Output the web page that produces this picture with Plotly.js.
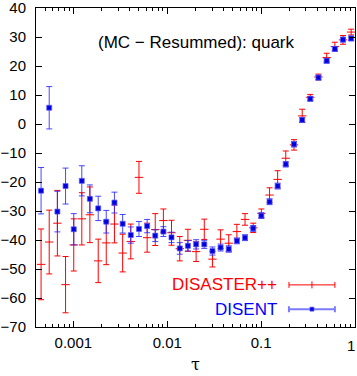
<!DOCTYPE html>
<html>
<head>
<meta charset="utf-8">
<script src="https://cdn.plot.ly/plotly-3.0.1.min.js"></script>
<style>
  html, body { margin: 0; padding: 0; background: #fff; }
  #plot { width: 357px; height: 376px; }
</style>
</head>
<body>
<div id="plot"></div>
<script>
// tau bin centres (log spaced)
var tau = [0.000453, 0.000553, 0.000676, 0.000826, 0.00101, 0.00123, 0.00150, 0.00184,
           0.00224, 0.00274, 0.00335, 0.00409, 0.00500, 0.00611, 0.00745, 0.00910,
           0.0111, 0.0136, 0.0166, 0.0203, 0.0248, 0.0303, 0.0370, 0.0452,
           0.0552, 0.0674, 0.0824, 0.1006, 0.123, 0.150, 0.183, 0.224,
           0.274, 0.334, 0.408, 0.499, 0.610, 0.745, 0.910];

// DISASTER++ (red)
var disasterVal = [-48.4, -40.7, -34.2, -55.4, -41.7, -32.7, -31.3, -47.2,
                   -41.0, -34.5, -44.5, -40.5, -18.4, -39.2, -36.4, -33.3,
                   -37.5, -43.0, -40.1, -44.0, -36.3, -46.6, -39.7, -41.1,
                   -37.1, -32.9, -35.8, -30.8, -24.5, -19.1, -11.8, -7.2,
                   2.8, 9.2, 16.2, 22.9, 26.7, 29.0, 31.7];
var disasterErr = [12.2, 11.0, 11.3, 9.7, 9.0, 9.0, 9.6, 7.5,
                   7.5, 6.5, 6.5, 6.0, 5.5, 5.0, 5.5, 4.0,
                   4.3, 4.2, 3.8, 3.4, 3.5, 2.7, 3.2, 2.9,
                   2.5, 2.0, 1.6, 1.5, 2.5, 3.0, 2.5, 1.8,
                   2.3, 1.0, 1.0, 1.5, 1.5, 1.5, 1.0];

// DISENT (blue)
var disentVal = [-23.0, 5.6, -30.2, -21.4, -36.3, -19.6, -25.8, -29.1,
                 -33.7, -27.1, -34.4, -38.3, -36.2, -35.2, -38.5, -37.1,
                 -39.1, -42.9, -42.0, -41.5, -41.5, -43.8, -42.6, -43.1,
                 -40.3, -39.2, -36.0, -31.6, -26.8, -21.4, -13.9, -7.0,
                 1.4, 8.7, 16.0, 21.8, 25.9, 29.1, 29.5];
var disentErr = [8.0, 7.3, 7.0, 6.2, 5.4, 5.2, 4.8, 4.2,
                 3.9, 3.6, 3.2, 2.8, 2.6, 2.3, 2.0, 1.7,
                 1.8, 2.0, 1.8, 1.6, 1.4, 1.4, 1.2, 1.1,
                 1.0, 1.0, 1.0, 1.0, 1.0, 1.0, 0.9, 0.9,
                 0.8, 0.8, 0.8, 0.8, 0.8, 0.8, 0.8];

var xTickVals = [0.001, 0.01, 0.1, 1];
var xTickText = ['0.001', '0.01', '0.1', ''];   // "1" sits on the right edge, drawn as an annotation
var yTickVals = [-70, -60, -50, -40, -30, -20, -10, 0, 10, 20, 30, 40];

var seriesNames = ['DISASTER++', 'DISENT'];
var RED = '#ff0000';
var BLUE = '#0000ff';
var FONT = 'Liberation Sans, Arial, sans-serif';

// minor ticks 2..9 in each decade
var minorVals = [];
[0.0001, 0.001, 0.01, 0.1].forEach(function(d){
    for (var k = 2; k <= 9; k++) minorVals.push(k * d);
});

var trace1 = {
    name: seriesNames[0],
    x: tau,
    y: disasterVal,
    type: 'scatter',
    mode: 'markers',
    marker: {symbol: 'line-ew-open', size: 6, color: RED, line: {color: RED, width: 1}},
    error_y: {type: 'data', array: disasterErr, visible: true, color: RED, thickness: 1, width: 3},
    showlegend: false
};

var trace2 = {
    name: seriesNames[1],
    x: tau,
    y: disentVal,
    type: 'scatter',
    mode: 'markers',
    marker: {symbol: 'square', size: 5, color: '#0000dd', line: {color: 'rgba(90,90,255,0.7)', width: 1}},
    error_y: {type: 'data', array: disentErr, visible: true, color: 'rgba(40,40,255,0.85)', thickness: 1, width: 3},
    showlegend: false
};

// legend samples drawn on a hidden 0..1 overlay axis
var keyRed = {
    x: [0.865], y: [0.132], xaxis: 'x2', yaxis: 'y2',
    type: 'scatter', mode: 'markers',
    marker: {symbol: 'line-ns-open', size: 5, color: RED, line: {color: RED, width: 1}},
    error_x: {type: 'constant', value: 0.072, color: RED, thickness: 1, width: 3},
    showlegend: false, hoverinfo: 'skip'
};
var keyBlue = {
    x: [0.865], y: [0.056], xaxis: 'x2', yaxis: 'y2',
    type: 'scatter', mode: 'markers',
    marker: {symbol: 'square', size: 4, color: '#0000dd', line: {color: 'rgba(90,90,255,0.7)', width: 1}},
    error_x: {type: 'constant', value: 0.072, color: 'rgba(90,90,255,0.8)', thickness: 2, width: 3},
    showlegend: false, hoverinfo: 'skip'
};

var layout = {
    width: 357,
    height: 376,
    margin: {l: 36, r: 2, t: 8, b: 49},
    paper_bgcolor: '#fff',
    plot_bgcolor: '#fff',
    font: {family: FONT, size: 15, color: '#000'},
    xaxis: {
        type: 'log',
        range: [Math.log10(0.0004), 0],
        tickvals: xTickVals,
        ticktext: xTickText,
        ticks: 'inside', ticklen: 6, tickcolor: '#000',
        minor: {tickvals: minorVals, ticks: 'inside', ticklen: 3, tickcolor: '#000'},
        showline: true, linecolor: '#000', linewidth: 1, mirror: 'ticks',
        showgrid: false, zeroline: false,
        ticklabelstandoff: 2,
        title: {text: 'τ', font: {family: 'DejaVu Serif, serif', size: 16}, standoff: 8}
    },
    yaxis: {
        range: [-70, 40],
        tickvals: yTickVals,
        ticks: 'inside', ticklen: 6, tickcolor: '#000',
        showline: true, linecolor: '#000', linewidth: 1, mirror: 'ticks',
        showgrid: false, zeroline: false,
        ticklabelstandoff: 6,
        ticklabeloverflow: 'allow'
    },
    xaxis2: {overlaying: 'x', range: [0, 1], visible: false, fixedrange: true},
    yaxis2: {overlaying: 'y', range: [0, 1], visible: false, fixedrange: true},
    annotations: [
        {text: '(MC \u2212 Resummed): quark', xref: 'paper', yref: 'paper', x: 0.502, y: 0.893,
         xanchor: 'center', yanchor: 'middle', showarrow: false, font: {size: 17}},
        {text: seriesNames[0], xref: 'paper', yref: 'paper', x: 0.762, y: 0.132,
         xanchor: 'right', yanchor: 'middle', showarrow: false, font: {size: 17, color: RED}},
        {text: seriesNames[1], xref: 'paper', yref: 'paper', x: 0.762, y: 0.056,
         xanchor: 'right', yanchor: 'middle', showarrow: false, font: {size: 17, color: BLUE}},
        {text: '1', xref: 'paper', yref: 'paper', x: 1, y: 0, xanchor: 'right', yanchor: 'top',
         xshift: 2, yshift: -8, showarrow: false, font: {size: 15}}
    ]
};

var config = {staticPlot: true};
var data = [trace1, trace2, keyRed, keyBlue];

Plotly.newPlot('plot', data, layout, config);
</script>
</body>
</html>
